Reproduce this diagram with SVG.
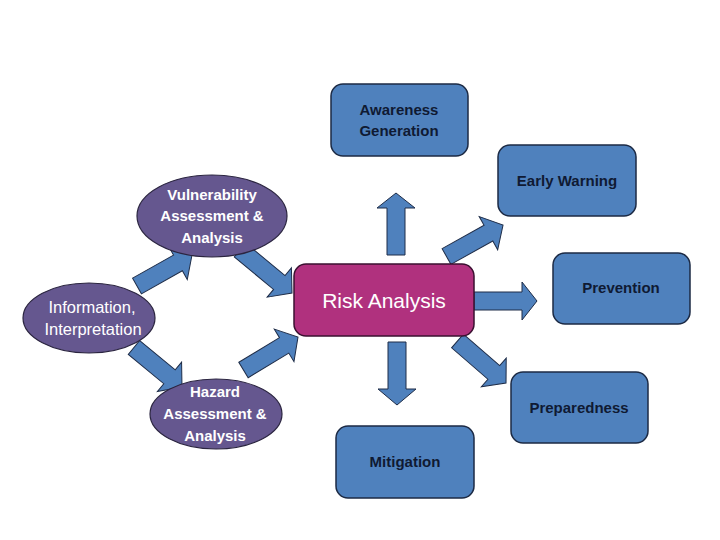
<svg xmlns="http://www.w3.org/2000/svg" width="720" height="540" viewBox="0 0 720 540">
<style>
.box{fill:#4F81BD;stroke:#1c2a44;stroke-width:1.5}
.ell{fill:#65578F;stroke:#2b2540;stroke-width:1.2}
.risk{fill:#B0317E;stroke:#3a1030;stroke-width:1.5}
.arr{fill:#4F81BD;stroke:#1f2d48;stroke-width:1}
.bt{font-family:"Liberation Sans",Arial,sans-serif;font-weight:bold;font-size:15px;fill:#0f1a33;text-anchor:middle}
.et{font-family:"Liberation Sans",Arial,sans-serif;font-weight:bold;font-size:15px;fill:#ffffff;text-anchor:middle}
.er{font-family:"Liberation Sans",Arial,sans-serif;font-size:16.5px;fill:#ffffff;text-anchor:middle}
.rt{font-family:"Liberation Sans",Arial,sans-serif;font-size:21px;fill:#ffffff;text-anchor:middle}
</style>
<rect width="720" height="540" fill="#ffffff"/>
<g id="connectors">
<polygon class="arr" transform="translate(396,255) rotate(-90)" points="0,-9 47,-9 47,-19 62,0 47,19 47,9 0,9"/>
<polygon class="arr" transform="translate(397,342) rotate(90)" points="0,-9 47,-9 47,-19 63,0 47,19 47,9 0,9"/>
<polygon class="arr" transform="translate(474,301) rotate(0)" points="0,-9 48,-9 48,-19 63,0 48,19 48,9 0,9"/>
<polygon class="arr" transform="translate(446.5,256.5) rotate(-29.1)" points="0,-9 48,-9 48,-19 64.7,0 48,19 48,9 0,9"/>
<polygon class="arr" transform="translate(457.5,341) rotate(40.9)" points="0,-9 48,-9 48,-19 64.2,0 48,19 48,9 0,9"/>
<polygon class="arr" transform="translate(240,250) rotate(39.6)" points="0,-9 51,-9 51,-19 67.5,0 51,19 51,9 0,9"/>
<polygon class="arr" transform="translate(137,286) rotate(-29.4)" points="0,-9 47,-9 47,-19 63.1,0 47,19 47,9 0,9"/>
<polygon class="arr" transform="translate(134,347.5) rotate(39.5)" points="0,-9 46,-9 46,-19 62.2,0 46,19 46,9 0,9"/>
<polygon class="arr" transform="translate(243.5,370) rotate(-31.2)" points="0,-9 47.5,-9 47.5,-19 63.7,0 47.5,19 47.5,9 0,9"/>
</g>
<g id="awareness">
<rect class="box" x="331" y="84" width="137" height="72" rx="12"/>
<text class="bt" x="399" y="115">Awareness</text>
<text class="bt" x="399" y="136">Generation</text>
</g>
<g id="early-warning">
<rect class="box" x="498" y="145" width="138" height="71" rx="12"/>
<text class="bt" x="567" y="186">Early Warning</text>
</g>
<g id="prevention">
<rect class="box" x="553" y="253" width="137" height="71" rx="12"/>
<text class="bt" x="621" y="293">Prevention</text>
</g>
<g id="preparedness">
<rect class="box" x="511" y="372" width="137" height="71" rx="12"/>
<text class="bt" x="579" y="413">Preparedness</text>
</g>
<g id="mitigation">
<rect class="box" x="336" y="426" width="138" height="72" rx="12"/>
<text class="bt" x="405" y="467">Mitigation</text>
</g>
<g id="risk-analysis">
<rect class="risk" x="294" y="264" width="180" height="72" rx="12"/>
<text class="rt" x="384" y="308">Risk Analysis</text>
</g>
<g id="vulnerability">
<ellipse class="ell" cx="212" cy="216" rx="75" ry="41"/>
<text class="et" x="212" y="200">Vulnerability</text>
<text class="et" x="212" y="221">Assessment &amp;</text>
<text class="et" x="212" y="243">Analysis</text>
</g>
<g id="information">
<ellipse class="ell" cx="89" cy="318" rx="66" ry="35"/>
<text class="er" x="92" y="313">Information,</text>
<text class="er" x="93" y="335">Interpretation</text>
</g>
<g id="hazard">
<ellipse class="ell" cx="216" cy="414" rx="66" ry="35"/>
<text class="et" x="215" y="397">Hazard</text>
<text class="et" x="215" y="419">Assessment &amp;</text>
<text class="et" x="215" y="441">Analysis</text>
</g>
</svg>
